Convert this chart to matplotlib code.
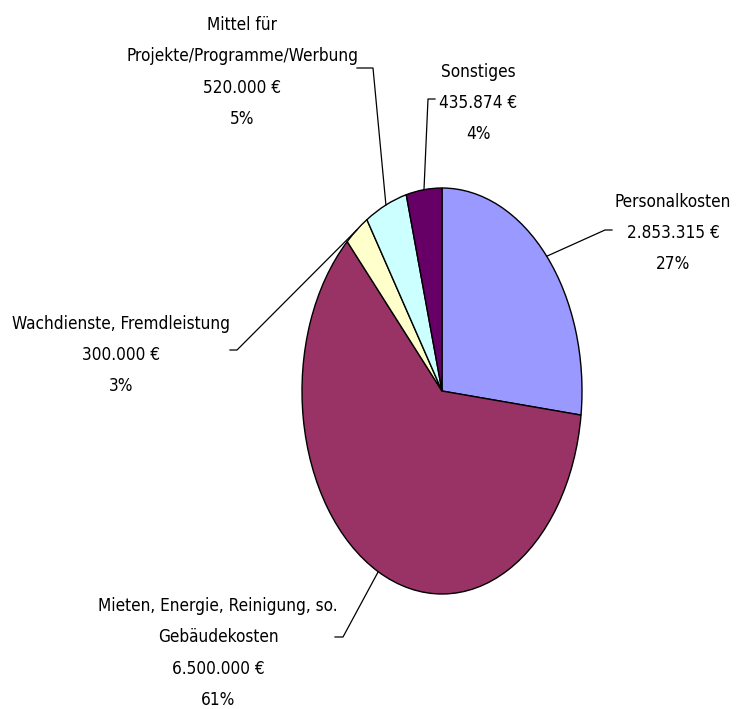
import matplotlib
matplotlib.use("Agg")
import matplotlib.pyplot as plt
from matplotlib import font_manager as fm
from matplotlib.lines import Line2D
import numpy as np

# ---- data ----
categories = ["Personalkosten",
              "Mieten, Energie, Reinigung, so.\nGebäudekosten",
              "Wachdienste, Fremdleistung",
              "Mittel für\nProjekte/Programme/Werbung",
              "Sonstiges"]
values = [2853315, 6500000, 300000, 520000, 435874]
value_labels = ["2.853.315 €", "6.500.000 €", "300.000 €", "520.000 €", "435.874 €"]
pct_labels = ["27%", "61%", "3%", "5%", "4%"]
colors = ["#9999FF", "#993366", "#FFFFCC", "#CCFFFF", "#660066"]

# ---- font choice ----
names = {f.name for f in fm.fontManager.ttflist}
if "Liberation Sans Narrow" in names:
    fam, fsize, stretch = "Liberation Sans Narrow", 15, "normal"
elif any(f.name == "DejaVu Sans" and f.stretch == "condensed" for f in fm.fontManager.ttflist):
    fam, fsize, stretch = "DejaVu Sans", 12.3, "condensed"
else:
    fam, fsize, stretch = "Liberation Sans", 12.3, "normal"

W, H = 736, 709
fig = plt.figure(figsize=(W / 100, H / 100), dpi=100)
fig.patch.set_facecolor("white")

def ff(x, y):
    return (x / W, 1 - y / H)

# pie axes (stretched to ellipse)
cx, cy, rx, ry = 442, 391, 140, 203
ax = fig.add_axes([(cx - rx) / W, (H - cy - ry) / H, 2 * rx / W, 2 * ry / H])
wedges, _ = ax.pie(values, colors=colors, startangle=90, counterclock=False,
                   radius=1, wedgeprops=dict(edgecolor="black", linewidth=1.0))
ax.set_aspect("auto")
ax.set_xlim(-1, 1)
ax.set_ylim(-1, 1)
ax.axis("off")

# label layout: text centre (x, y), leader end (x, y), stub end (x, y) in px from top-left
text_pos = [(673, 233), (218, 653), (121, 355), (242, 72), (478, 103)]
leader_end = [(605, 230), (343, 637), (237, 350), (373, 68), (428, 99)]
stub_end = [(612, 230), (335, 637), (230, 350), (357, 68), (435, 99)]

fig.canvas.draw()
inv = fig.transFigure.inverted()
for i, w in enumerate(wedges):
    mid = np.deg2rad((w.theta1 + w.theta2) / 2)
    ex, ey = inv.transform(ax.transData.transform((np.cos(mid), np.sin(mid))))
    lx, ly = ff(*leader_end[i])
    sx, sy = ff(*stub_end[i])
    fig.add_artist(Line2D([ex, lx, sx], [ey, ly, sy], color="black", lw=0.9,
                          transform=fig.transFigure))
    tx, ty = ff(*text_pos[i])
    fig.text(tx, ty, f"{categories[i]}\n{value_labels[i]}\n{pct_labels[i]}",
             ha="center", va="center", multialignment="center",
             fontsize=fsize, family=fam, stretch=stretch, linespacing=1.95,
             color="black")

fig.savefig("out.png", dpi=100, facecolor="white")
